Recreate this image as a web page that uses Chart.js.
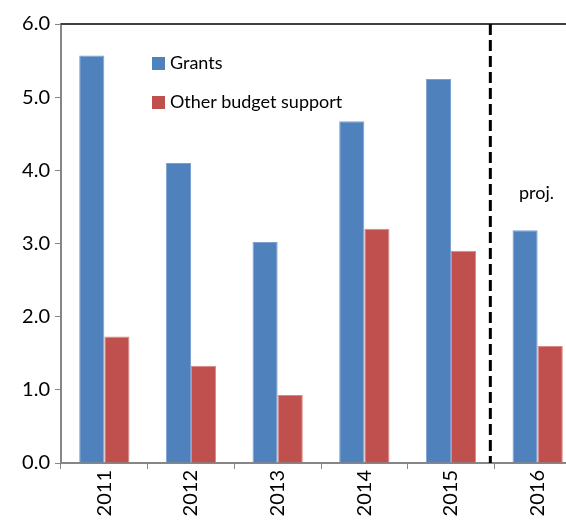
<!DOCTYPE html>
<html><head><meta charset="utf-8">
<script src="https://cdn.jsdelivr.net/npm/chart.js@4/dist/chart.umd.min.js"></script>
<style>
html,body{margin:0;padding:0;background:#fff;overflow:hidden;width:566px;height:525px;}
#wrap{position:absolute;left:0;top:0;width:590px;height:525px;}
.lg{position:absolute;font-family:Lato,"Open Sans",sans-serif;font-size:18px;color:#000;white-space:nowrap;}
.sw{position:absolute;width:13px;height:13px;}
</style></head>
<body>
<div id="wrap"><canvas id="c" width="590" height="525"></canvas></div>
<div class="sw" style="left:152px;top:57px;background:#4F81BD"></div>
<div class="lg" style="left:170px;top:51px">Grants</div>
<div class="sw" style="left:152px;top:96px;background:#C0504D"></div>
<div class="lg" style="left:170px;top:90px">Other budget support</div>
<div class="lg" style="left:519px;top:181px">proj.</div>
<script>
const categories = ["2011","2012","2013","2014","2015","2016"];
const grants = [5.57, 4.10, 3.02, 4.67, 5.25, 3.18];
const otherSupport = [1.73, 1.33, 0.93, 3.20, 2.90, 1.60];
const yTicks = [0, 1, 2, 3, 4, 5, 6];

const frame = {
  id: 'frame',
  afterDatasetsDraw(chart) {
    const {ctx, chartArea, scales} = chart;
    ctx.save();
    ctx.strokeStyle = '#404040';
    ctx.lineWidth = 2;
    ctx.beginPath();
    ctx.moveTo(chartArea.left, chartArea.top);
    ctx.lineTo(chartArea.right, chartArea.top);
    ctx.stroke();
    const x = scales.x;
    const xm = (x.getPixelForValue(4) + x.getPixelForValue(5)) / 2 - 4;
    ctx.strokeStyle = '#000';
    ctx.lineWidth = 3;
    ctx.setLineDash([11, 5]);
    ctx.beginPath();
    ctx.moveTo(xm, chartArea.top);
    ctx.lineTo(xm, chartArea.bottom);
    ctx.stroke();
    ctx.restore();
  }
};

new Chart(document.getElementById('c'), {
  type: 'bar',
  data: {
    labels: categories,
    datasets: [
      {label: 'Grants', data: grants, backgroundColor: '#4F81BD', borderColor: '#7A9FD0', borderWidth: 1,
       categoryPercentage: 0.58, barPercentage: 1.0},
      {label: 'Other budget support', data: otherSupport, backgroundColor: '#C0504D', borderColor: '#D98885', borderWidth: 1,
       categoryPercentage: 0.58, barPercentage: 1.0}
    ]
  },
  options: {
    responsive: false,
    animation: false,
    layout: {padding: {top: 24, right: 9, left: 0, bottom: 0}},
    plugins: {legend: {display: false}, tooltip: {enabled: false}},
    scales: {
      x: {
        grid: {drawOnChartArea: false, offset: true, color: '#868686', tickLength: 6, tickColor: '#868686'},
        border: {color: '#868686', width: 2},
        ticks: {color: '#000', font: {family: 'Lato, "Open Sans", sans-serif', size: 20}, minRotation: 90, maxRotation: 90, padding: 1},
        afterFit(s) { s.height = 62; }
      },
      y: {
        min: 0, max: 6,
        afterBuildTicks(s) { s.ticks = yTicks.map(v => ({value: v})); },
        grid: {drawOnChartArea: false, color: '#868686', tickLength: 6, tickColor: '#868686'},
        border: {color: '#868686', width: 2},
        ticks: {color: '#000', font: {family: 'Lato, "Open Sans", sans-serif', size: 20}, padding: 5,
                callback: v => Number(v).toFixed(1)},
        afterFit(s) { s.width = 61; }
      }
    }
  },
  plugins: [frame]
});
</script>
</body></html>
